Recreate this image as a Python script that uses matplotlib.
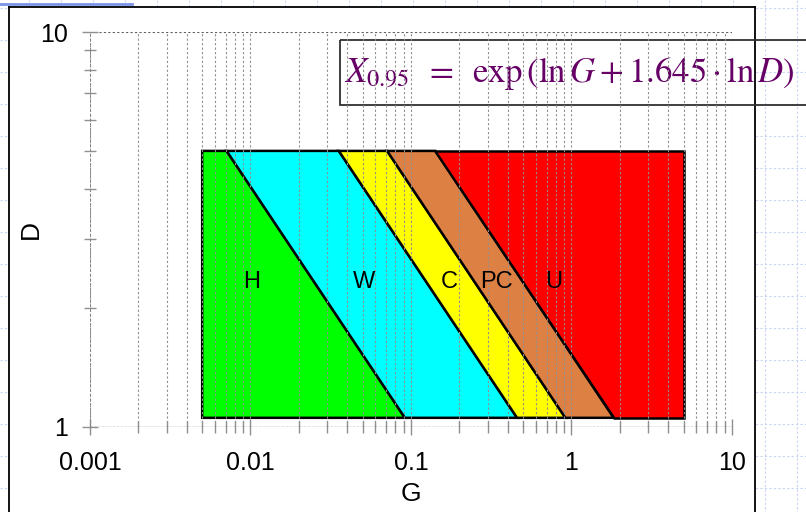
import matplotlib.pyplot as plt
from matplotlib.patches import Polygon, Rectangle
from matplotlib.ticker import LogLocator, NullFormatter, FixedLocator, FixedFormatter
import numpy as np

plt.rcParams['font.family'] = ['Liberation Sans', 'DejaVu Sans']
plt.rcParams['mathtext.fontset'] = 'stix'

# rectangle of the classification chart (G range, D range)
g_min, g_max = 0.005, 5.0
d_min, d_max = 1.055, 5.0

# boundary lines: G where each boundary meets the bottom (d_min) and top (d_max)
g_bottom = [0.0916, 0.458, 0.916, 1.83]
g_top = [0.0071, 0.0355, 0.071, 0.142]

zone_names = ['H', 'W', 'C', 'PC', 'U']
zone_colors = ['#00ff00', '#00ffff', '#ffff00', '#dd8044', '#ff0000']
label_g = [0.0102, 0.051, 0.173, 0.34, 0.77]
label_d = [2.33, 2.33, 2.33, 2.33, 2.33]

x_ticks = [0.001, 0.01, 0.1, 1, 10]
x_ticklabels = ['0.001', '0.01', '0.1', '1', '10']
y_ticks = [1, 10]
y_ticklabels = ['1', '10']

W, H = 806, 512
fig = plt.figure(figsize=(W / 100, H / 100), dpi=100)

# slide background with faint blue grid
bg = fig.add_axes([0, 0, 1, 1])
bg.set_xlim(0, W)
bg.set_ylim(H, 0)
bg.axis('off')
for gx in np.arange(29, W, 32):
    bg.plot([gx, gx], [0, H], color='#c8d4f4', lw=0.8, ls=(0, (2, 2)), zorder=1)
for gy in np.arange(8, H, 32):
    bg.plot([0, W], [gy, gy], color='#c8d4f4', lw=0.8, ls=(0, (2, 2)), zorder=1)
bg.add_patch(Rectangle((9, 7), 746, 510, facecolor='white', edgecolor='none', zorder=3))
bg.plot([9, 9], [7, H], color='black', lw=1.3, zorder=4)
bg.plot([9, 755], [7, 7], color='black', lw=1.3, zorder=4)
bg.plot([755, 755], [7, H], color='black', lw=1.3, zorder=4)
bg.plot([0, 132], [4, 4], color='#7c94e8', lw=2, zorder=4)

ax = fig.add_axes([90 / W, 1 - 427 / H, (732 - 90) / W, (427 - 32) / H])
ax.set_xscale('log')
ax.set_yscale('log')
ax.set_xlim(0.001, 10)
ax.set_ylim(1, 10)
ax.patch.set_alpha(0)

# zone polygons
left_edge = [(g_min, d_min), (g_min, d_max)]
edges = [left_edge] + [[(gb, d_min), (gt, d_max)] for gb, gt in zip(g_bottom, g_top)] \
    + [[(g_max, d_min), (g_max, d_max)]]
for i in range(len(zone_names)):
    a, b = edges[i], edges[i + 1]
    poly = [a[0], b[0], b[1], a[1]]
    ax.add_patch(Polygon(poly, closed=True, facecolor=zone_colors[i],
                         edgecolor='black', lw=1.8, zorder=1))
    ax.text(label_g[i], label_d[i], zone_names[i], fontsize=17,
            ha='center', va='center', zorder=4)

# dashed grid on top of the fills
ax.xaxis.set_major_locator(FixedLocator(x_ticks))
ax.xaxis.set_major_formatter(FixedFormatter(x_ticklabels))
ax.xaxis.set_minor_locator(LogLocator(base=10, subs=np.arange(2, 10)))
ax.xaxis.set_minor_formatter(NullFormatter())
ax.yaxis.set_major_locator(FixedLocator(y_ticks))
ax.yaxis.set_major_formatter(FixedFormatter(y_ticklabels))
ax.yaxis.set_minor_locator(LogLocator(base=10, subs=np.arange(2, 10)))
ax.yaxis.set_minor_formatter(NullFormatter())
ax.grid(True, which='both', axis='x', color='#909090', ls=(0, (2, 2)), lw=0.8, zorder=3)
ax.grid(True, which='major', axis='y', color='#606060', ls=(0, (2, 2)), lw=0.8, zorder=3)
ax.set_axisbelow(False)
for s in ax.spines.values():
    s.set_visible(False)
ax.axvline(0.001, color='#808080', lw=1.2, ls=(0, (2, 1)), zorder=3)
ax.axhline(1, color='#505050', lw=0.9, ls=(0, (2, 1)), zorder=3)

ax.tick_params(which='major', direction='inout', length=12, width=1, color='#909090',
               labelsize=18, pad=11)
ax.tick_params(which='minor', direction='inout', length=8, width=1, color='#909090')
ax.tick_params(axis='y', which='major', pad=10)

ax.set_xlabel('G', fontsize=19, labelpad=5)
ax.set_ylabel('D', fontsize=19, labelpad=-2)

# formula box
bg.add_patch(Rectangle((340, 40), 500, 65, facecolor='none', edgecolor='#303030',
                       lw=1.3, clip_on=False, zorder=5))
bg.text(344, 74, r'$X_{0.95}\;\;=\;\;\exp\left(\ln G + 1.645\cdot\ln D\right)$',
        color='#660066', fontsize=25, ha='left', va='center', zorder=6)

fig.savefig('out.png', dpi=100)
